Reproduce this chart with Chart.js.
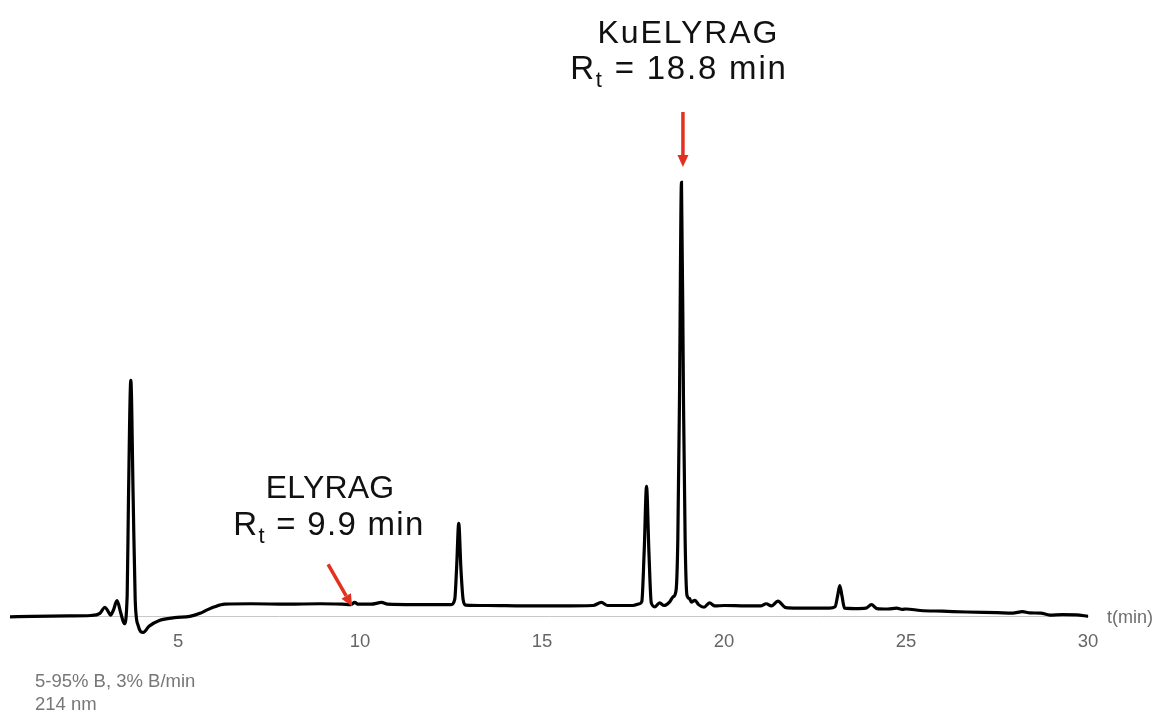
<!DOCTYPE html>
<html>
<head>
<meta charset="utf-8">
<script src="https://cdn.jsdelivr.net/npm/chart.js@4.4.1/dist/chart.umd.min.js"></script>
<style>
  html, body { margin: 0; padding: 0; background: #ffffff; }
  #wrap { position: relative; width: 1158px; height: 713px; }
</style>
</head>
<body>
<div id="wrap"><canvas id="c" width="1158" height="713"></canvas></div>
<script>
// Retention time (min)
const times = [
  0.38, 1.0, 2.0, 2.6, 2.85, 2.99, 3.08, 3.14, 3.22, 3.32, 3.42, 3.52,
  3.6, 3.635, 3.70, 3.765, 3.82, 3.9, 4.04, 4.2, 4.5, 4.9, 5.32, 5.6, 5.8,
  6.0, 6.28, 7.0, 8.0, 8.9, 9.5, 9.75, 9.85, 9.95, 10.3, 10.59, 10.75,
  11.5, 12.0, 12.5, 12.6, 12.65, 12.71, 12.77, 12.83, 12.9, 13.5, 14.5,
  15.5, 16.4, 16.63, 16.8, 17.5, 17.68, 17.74, 17.805, 17.87, 17.935,
  18.0, 18.1, 18.23, 18.35, 18.5, 18.6, 18.68, 18.73, 18.775, 18.83,
  18.885, 18.93, 18.98, 19.05, 19.1, 19.2, 19.3, 19.45, 19.6, 19.75,
  20.0, 20.6, 21.0, 21.16, 21.3, 21.48, 21.7, 22.0, 22.9, 23.05, 23.12,
  23.18, 23.24, 23.31, 23.6, 23.9, 24.05, 24.2, 24.5, 24.74, 24.9, 25.0,
  25.4, 26.0, 26.66, 27.5, 27.93, 28.2, 28.4, 28.7, 28.95, 29.3, 29.68, 30.0
];
// Absorbance at 214 nm (arbitrary units, main peak = 100)
const signal = [
  0.0, 0.1, 0.2, 0.3, 0.8, 2.2, 1.2, 0.4, 1.5, 3.7, 1.0, -1.6,
  5.0, 27.0, 54.4, 27.0, 4.0, -2.0, -3.6, -2.2, -0.8, -0.2, 0.1, 0.8, 1.6,
  2.3, 2.9, 3.0, 2.9, 3.0, 2.9, 2.8, 3.3, 2.9, 2.9, 3.3, 2.9,
  2.8, 2.8, 2.8, 4.0, 11.0, 21.5, 11.0, 4.0, 2.7, 2.6, 2.5,
  2.5, 2.6, 3.3, 2.6, 2.6, 3.0, 3.5, 15.0, 30.0, 15.0,
  3.2, 2.3, 3.2, 2.6, 3.4, 4.6, 6.0, 18.0, 50.0, 100.0,
  50.0, 18.0, 5.0, 4.2, 3.4, 3.8, 2.8, 2.2, 3.2, 2.5,
  2.6, 2.5, 2.5, 3.0, 2.5, 3.6, 2.1, 2.0, 2.0, 2.3, 4.8,
  7.2, 4.8, 2.0, 1.9, 2.0, 2.8, 1.9, 1.8, 2.0, 1.7, 1.8,
  1.45, 1.3, 1.1, 0.95, 0.85, 1.2, 0.9, 0.85, 0.4, 0.5, 0.45, 0.1
];
const tickValues = [5, 10, 15, 20, 25, 30];
const peakNames = ["KuELYRAG", "ELYRAG"];
const peakRt = [18.8, 9.9];
const conditionLines = ["5-95% B, 3% B/min", "214 nm"];
const axisUnitLabel = "t(min)";

const FONT = '"Liberation Sans", Arial, Helvetica, sans-serif';
const points = times.map((t, i) => ({ x: t, y: signal[i] }));

function setSpacing(ctx, px) {
  if ('letterSpacing' in ctx) ctx.letterSpacing = px + 'px';
}

function drawRtLabel(ctx, cx, baseline, size, rtText, spacing) {
  const main = size + 'px ' + FONT;
  const sub = Math.round(size * 0.68) + 'px ' + FONT;
  setSpacing(ctx, spacing);
  ctx.font = main;
  const wR = ctx.measureText('R').width;
  const rest = ' = ' + rtText + ' min';
  const wRest = ctx.measureText(rest).width;
  ctx.font = sub;
  const wt = ctx.measureText('t').width;
  const total = wR + wt + wRest - spacing;
  let x = cx - total / 2;
  ctx.textAlign = 'left';
  ctx.textBaseline = 'alphabetic';
  ctx.font = main;
  ctx.fillText('R', x, baseline);
  x += wR;
  ctx.font = sub;
  ctx.fillText('t', x, baseline + size * 0.25);
  x += wt;
  ctx.font = main;
  ctx.fillText(rest, x, baseline);
  setSpacing(ctx, 0);
}

function drawArrow(ctx, x1, y1, x2, y2, color) {
  const ang = Math.atan2(y2 - y1, x2 - x1);
  const head = 12, hw = 5.5;
  const bx = x2 - head * Math.cos(ang), by = y2 - head * Math.sin(ang);
  ctx.strokeStyle = color;
  ctx.fillStyle = color;
  ctx.lineWidth = 3.5;
  ctx.lineCap = 'butt';
  ctx.beginPath();
  ctx.moveTo(x1, y1);
  ctx.lineTo(bx, by);
  ctx.stroke();
  ctx.beginPath();
  ctx.moveTo(x2, y2);
  ctx.lineTo(bx + hw * Math.sin(ang), by - hw * Math.cos(ang));
  ctx.lineTo(bx - hw * Math.sin(ang), by + hw * Math.cos(ang));
  ctx.closePath();
  ctx.fill();
}

const annotationPlugin = {
  id: 'annots',
  afterDraw(chart) {
    const ctx = chart.ctx;
    const xs = chart.scales.x, ys = chart.scales.y;
    ctx.save();
    // axis unit label
    ctx.fillStyle = '#6e6e6e';
    ctx.font = '18px ' + FONT;
    ctx.textAlign = 'left';
    ctx.textBaseline = 'middle';
    ctx.fillText(axisUnitLabel, xs.right + 19, ys.getPixelForValue(0) + 1);
    // conditions
    ctx.fillStyle = '#777777';
    ctx.font = '18.5px ' + FONT;
    ctx.textBaseline = 'alphabetic';
    ctx.fillText(conditionLines[0], 35, 687);
    ctx.fillText(conditionLines[1], 35, 710);

    // peak labels
    ctx.fillStyle = '#111111';
    const size = 32;
    // KuELYRAG
    const ax1 = xs.getPixelForValue(18.87);
    ctx.font = size + 'px ' + FONT;
    ctx.textAlign = 'left';
    ctx.textBaseline = 'alphabetic';
    setSpacing(ctx, 1.9);
    let w = ctx.measureText(peakNames[0]).width - 1.9;
    ctx.fillText(peakNames[0], 687.5 - w / 2, 42.7);
    setSpacing(ctx, 0);
    drawRtLabel(ctx, 678, 79, 33, peakRt[0].toFixed(1), 1.8);
    drawArrow(ctx, ax1, 112, ax1, 167, '#e2321f');
    // ELYRAG
    const tipX = xs.getPixelForValue(9.78);
    const tipY = ys.getPixelForValue(2.4);
    ctx.fillStyle = '#111111';
    ctx.font = size + 'px ' + FONT;
    setSpacing(ctx, 0.2);
    w = ctx.measureText(peakNames[1]).width - 0.2;
    ctx.fillText(peakNames[1], 330 - w / 2, 497.7);
    setSpacing(ctx, 0);
    drawRtLabel(ctx, 328.3, 535, 33, peakRt[1].toFixed(1), 1.3);
    drawArrow(ctx, tipX - 24, tipY - 42, tipX, tipY, '#e2321f');
    ctx.restore();
  }
};

new Chart(document.getElementById('c'), {
  type: 'line',
  data: {
    datasets: [{
      data: points,
      borderColor: '#000000',
      borderWidth: 3.2,
      pointRadius: 0,
      fill: false,
      cubicInterpolationMode: 'monotone',
      clip: false
    }]
  },
  options: {
    responsive: false,
    animation: false,
    events: [],
    layout: { padding: { left: 10, right: 70, top: 52, bottom: 46 } },
    plugins: { legend: { display: false }, tooltip: { enabled: false } },
    scales: {
      x: {
        type: 'linear',
        min: 0.38,
        max: 30,
        grid: { display: false, drawTicks: false },
        border: { display: true, color: '#c8c8c8', width: 1 },
        afterBuildTicks: (axis) => { axis.ticks = tickValues.map(v => ({ value: v })); },
        ticks: {
          autoSkip: false,
          maxRotation: 0,
          padding: 14,
          color: '#666666',
          font: { family: FONT, size: 18.5 }
        }
      },
      y: {
        display: false,
        min: 0,
        max: 130
      }
    }
  },
  plugins: [annotationPlugin]
});
</script>
</body>
</html>
